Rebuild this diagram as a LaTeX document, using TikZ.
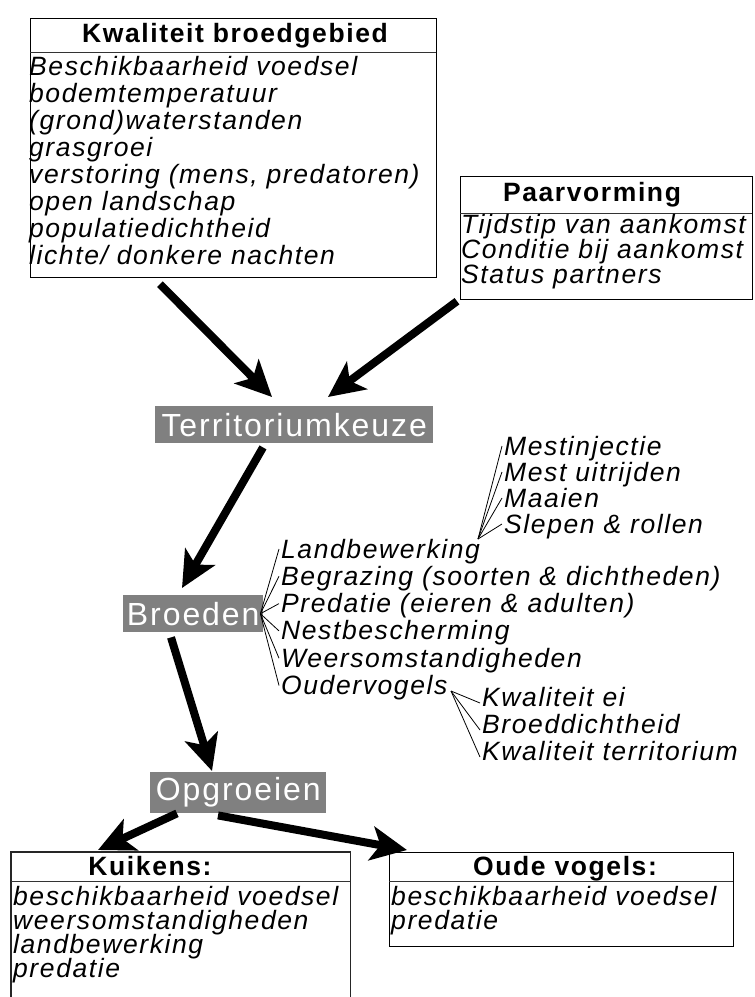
\documentclass[tikz,border=0pt]{standalone}
\usepackage{fontspec}
\setmainfont{Liberation Sans}
\newfontfamily\spfont[LetterSpace=6]{Liberation Sans}
\usetikzlibrary{arrows.meta,calc}
\definecolor{boxgrey}{RGB}{128,128,128}
\newcommand\itx{\fontsize{26.5}{27}\selectfont\spfont\itshape}
\newcommand\bfx{\fontsize{26.5}{27}\selectfont\spfont\bfseries}
\newcommand\rmx{\fontsize{26.5}{27}\selectfont\spfont}
\newcommand\grx{\fontsize{32}{34}\selectfont\spfont}
\begin{document}
\begin{tikzpicture}[x=1pt,y=-1pt,
  frame/.style={draw=black, line width=1.2pt, inner sep=0, anchor=north west},
  sepline/.style={draw=black!80, line width=1pt},
  stage/.style={fill=boxgrey, text=white, font=\grx, inner sep=0, anchor=north west},
  lab/.style={anchor=base west, inner sep=0, font=\itx},
  ttl/.style={anchor=base, inner sep=0, font=\bfx},
  bigarrow/.style={line width=8pt, -{Stealth[length=36pt, width=34pt, inset=9pt]}},
  fan/.style={line width=0.8pt}
]
\useasboundingbox (0,0) rectangle (755,997);

% ---- Kwaliteit broedgebied
\node[frame, minimum width=406, minimum height=259] (kb) at (30,18) {};
\draw[sepline] (30,52) -- (436,52);
\node[ttl] (kbt) at (235,42) {Kwaliteit broedgebied};
\foreach \t [count=\i from 0] in {Beschikbaarheid voedsel, bodemtemperatuur, (grond)waterstanden, grasgroei, {verstoring (mens, predatoren)}, open landschap, populatiedichtheid, lichte/ donkere nachten}
  \node[lab] (kb\i) at (29,75+27.1*\i) {\t};

% ---- Paarvorming
\node[frame, minimum width=292, minimum height=123] (pv) at (460,176) {};
\draw[sepline] (460,213) -- (752,213);
\node[ttl] (pvt) at (592,201) {Paarvorming};
\foreach \t [count=\i from 0] in {Tijdstip van aankomst, Conditie bij aankomst, Status partners}
  \node[lab] (pv\i) at (461,233+25*\i) {\t};

% ---- stages
\node[stage, minimum width=278, minimum height=37] (terr) at (155,406) {Territoriumkeuze};
\node[stage, minimum width=140, minimum height=37] (broed) at (123,595) {Broeden};
\node[stage, minimum width=176, minimum height=41] (opg) at (150,772) {Opgroeien};

% ---- Kuikens (open at the bottom)
\node[inner sep=0, minimum width=339, minimum height=145, anchor=north west] (kui) at (11,852) {};
\draw[line width=1.2pt, draw=black!85] (kui.south west) -- (kui.north west) -- (kui.north east) -- (kui.south east);
\draw[sepline] (11,881) -- (350,881);
\node[anchor=base, inner sep=0] (kuit) at (150,875) {\bfx Kuikens\rmx:};
\foreach \t [count=\i from 0] in {beschikbaarheid voedsel, weersomstandigheden, landbewerking, predatie}
  \node[lab] (ku\i) at (13,905+24*\i) {\t};

% ---- Oude vogels
\node[frame, minimum width=344, minimum height=94] (ov) at (389,852) {};
\draw[sepline] (389,881) -- (733,881);
\node[anchor=base, inner sep=0] (ovt) at (565,875) {\bfx Oude vogels\rmx:};
\foreach \t [count=\i from 0] in {beschikbaarheid voedsel, predatie}
  \node[lab] (ov\i) at (391,905+24*\i) {\t};

% ---- factors of Broeden
\foreach \t [count=\i from 0] in {Landbewerking, {Begrazing (soorten \& dichtheden)}, {Predatie (eieren \& adulten)}, Nestbescherming, Weersomstandigheden, Oudervogels}
  \node[lab] (br\i) at (281,558+27.3*\i) {\t};
\coordinate (f1) at ($(broed.east)+(-3,0)$);
\foreach \i in {0,...,5}
  \draw[fan] (f1) -- ($(br\i.base west)+(-2,-9)$);

% ---- factors of Landbewerking
\foreach \t [count=\i from 0] in {Mestinjectie, Mest uitrijden, Maaien, {Slepen \& rollen}}
  \node[lab] (lb\i) at (504,455+26*\i) {\t};
\coordinate (f2) at (478,539);
\foreach \i in {0,...,3}
  \draw[fan] (f2) -- ($(lb\i.base west)+(-2,-9)$);

% ---- factors of Oudervogels
\foreach \t [count=\i from 0] in {Kwaliteit ei, Broeddichtheid, Kwaliteit territorium}
  \node[lab] (ou\i) at (482,706+27*\i) {\t};
\coordinate (f3) at (451,691);
\foreach \i in {0,...,2}
  \draw[fan] (f3) -- ($(ou\i.base west)+(-2,-3)$);

% ---- main arrows
\draw[bigarrow] ($(kb.south west)+(130,6)$) -- ($(terr.north west)+(117,-9)$);
\draw[bigarrow] ($(pv.south west)+(-3,1)$) -- ($(terr.north west)+(173,-9)$);
\draw[bigarrow] ($(terr.south west)+(108,4)$) -- ($(broed.north west)+(59,-7)$);
\draw[bigarrow] ($(broed.south west)+(48,5)$) -- ($(opg.north west)+(62,-1)$);
\draw[bigarrow] ($(opg.south west)+(27,0)$) -- ($(kui.north west)+(87,-2)$);
\draw[bigarrow] ($(opg.south west)+(68,2)$) -- ($(ov.north west)+(18,-2)$);
\end{tikzpicture}
\end{document}
